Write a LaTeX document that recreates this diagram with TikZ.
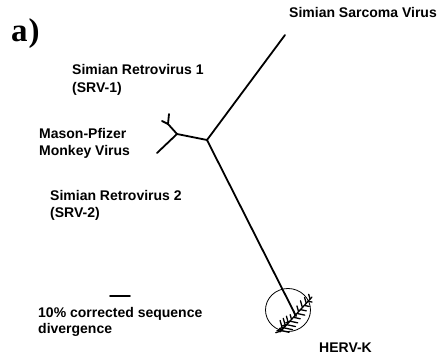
\documentclass[tikz,border=0pt]{standalone}
\usepackage{fontspec}
\setmainfont{Liberation Sans}
\newfontfamily\serifbf{Liberation Serif}
\usetikzlibrary{calc}
\begin{document}
\begin{tikzpicture}[x=1pt,y=-1pt,
  lbl/.style={font=\bfseries\fontsize{14}{16}\selectfont, inner sep=0, anchor=base west},
  br/.style={line width=1.8pt, line cap=round},
  twig/.style={line width=1.3pt, line cap=round}]
\useasboundingbox (0,0) rectangle (442,357);
% panel label
\node[font=\serifbf\bfseries\fontsize{33}{34}\selectfont, inner sep=0, anchor=base west] (pl) at (11,41) {a\kern1pt)};
% labels
\node[lbl, anchor=base east] (ssv) at (437,17) {Simian Sarcoma Virus};
\node[lbl] (srv1a) at (72,74) {Simian Retrovirus 1};
\node[lbl] (srv1b) at (72,92) {(SRV-1)};
\node[lbl] (mpa) at (39,138) {Mason-Pfizer};
\node[lbl] (mpb) at (39,155) {Monkey Virus};
\node[lbl] (srv2a) at (50,200) {Simian Retrovirus 2};
\node[lbl] (srv2b) at (50,217) {(SRV-2)};
\node[lbl] (sc1) at (38,317) {10\% corrected sequence};
\node[lbl] (sc2) at (38,333) {divergence};
\node[lbl] (herv) at (319,352) {HERV-K};
% tree coordinates
\coordinate (c) at (207,140);
\coordinate (ssvtip) at (285,35);
\coordinate (n2) at (177,134);
\coordinate (mptip) at (157,153);
\coordinate (f) at (168,124);
\coordinate (s1) at (169,114);
\coordinate (s2) at (162,121);
\coordinate (m) at (296,316);
\coordinate (A) at (280,332);
\coordinate (B) at (312,297);
\coordinate (sb1) at (110,296);
\coordinate (sb2) at (130,296);
% tree
\draw[br] (ssvtip) -- (c) -- (n2) -- (mptip);
\draw[br] (n2) -- (f) -- (s1);
\draw[br] (f) -- (s2);
\draw[br] (c) -- (m);
\draw[br] (sb1) -- (sb2);
% HERV-K cluster
\draw[line width=0.8pt] (288,310) ellipse (22.5 and 21.5);
\draw[twig] (A) -- (B);
\foreach \t/\l/\s in {0.04/8/1, 0.08/9/-1, 0.12/9/1, 0.17/8/-1, 0.21/9/1, 0.26/7/-1, 0.31/8/1,
  0.36/5/-1, 0.42/7/1, 0.47/5/-1, 0.53/8/1, 0.58/6/-1, 0.64/6/1, 0.70/7/-1, 0.76/5/1, 0.82/6/-1, 0.88/4/1, 0.94/5/-1}{
  \draw[twig] ($(A)!\t!(B)$) -- ++({\l*(\s*0.728+0.41)/1.17},{\l*(\s*0.685-0.44)/1.17});
}
\foreach \t/\l in {0.03/7, 0.09/8, 0.15/7, 0.22/6, 0.30/5}{
  \draw[twig] ($(A)!\t!(B)$) -- ++({-\l*0.75},{\l*0.25});
}
\end{tikzpicture}
\end{document}
